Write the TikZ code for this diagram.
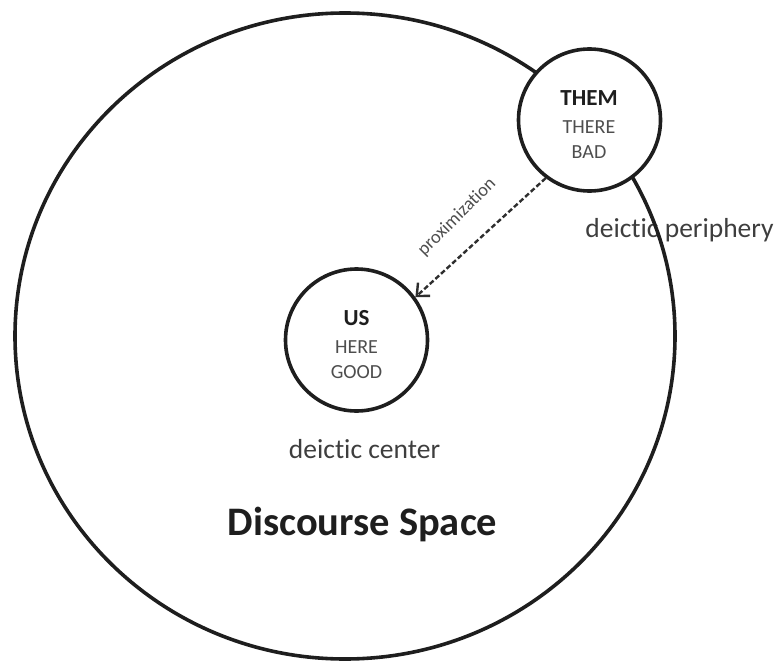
\documentclass[tikz,border=0pt]{standalone}
\usepackage{fontspec}
\setmainfont{Carlito}[Ligatures=NoCommon]
\usetikzlibrary{arrows.meta}
\definecolor{ink}{HTML}{1E1E1E}
\definecolor{softink}{HTML}{3E3E3E}
\definecolor{greyink}{HTML}{4E4E4E}
\definecolor{dashink}{HTML}{2E2E2E}
\tikzset{
  ring/.style={circle, draw=ink, line width=3.6pt, fill=white, minimum size=142pt, inner sep=0pt},
  headword/.style={anchor=base, text=ink, font=\fontsize{23}{26}\selectfont\bfseries, inner sep=0pt},
  subword/.style={anchor=base, text=greyink, font=\fontsize{20}{24}\selectfont, inner sep=0pt},
  caption/.style={anchor=base, text=softink, font=\fontsize{27.5}{32}\selectfont, inner sep=0pt},
  title/.style={anchor=base, text=ink, font=\fontsize{40.5}{46}\selectfont\bfseries, inner sep=0pt},
  move/.style={draw=dashink, line width=2.4pt, dash pattern=on 5pt off 2.6pt,
    -{Straight Barb[length=10pt,width=18pt]}},
}
\begin{document}
\begin{tikzpicture}[x=1pt,y=-1pt]
  \useasboundingbox (0,0) rectangle (779,661);

  % label under the outer boundary (the boundary line runs over it)
  \node[caption] (periphery) at (679.5,237) {deictic periphery};

  % the discourse space
  \draw[ink, line width=3.6pt] (345,336) ellipse (330pt and 323pt);

  % the two deictic circles
  \node[ring] (them) at (589.5,120) {};
  \node[ring] (us) at (356.5,340) {};

  \node[headword] (themA) at (589,106) {THEM};
  \node[subword] (themB) at (589,133) {THERE};
  \node[subword] (themC) at (589,158.5) {BAD};

  \node[headword] (usA) at (356.5,325) {US};
  \node[subword] (usB) at (356.5,353) {HERE};
  \node[subword] (usC) at (356.5,378.5) {GOOD};

  % proximization: THEM moves towards the deictic center
  \draw[move] (them.233) -- (us.36);
  \node[text=greyink, font=\fontsize{18.5}{22}\selectfont, rotate=45, inner sep=0pt] (prox) at (457,217) {proximization};

  \node[caption] (center) at (364.5,458) {deictic center};
  \node[title] (space) at (362.5,535) {Discourse Space};
\end{tikzpicture}
\end{document}
